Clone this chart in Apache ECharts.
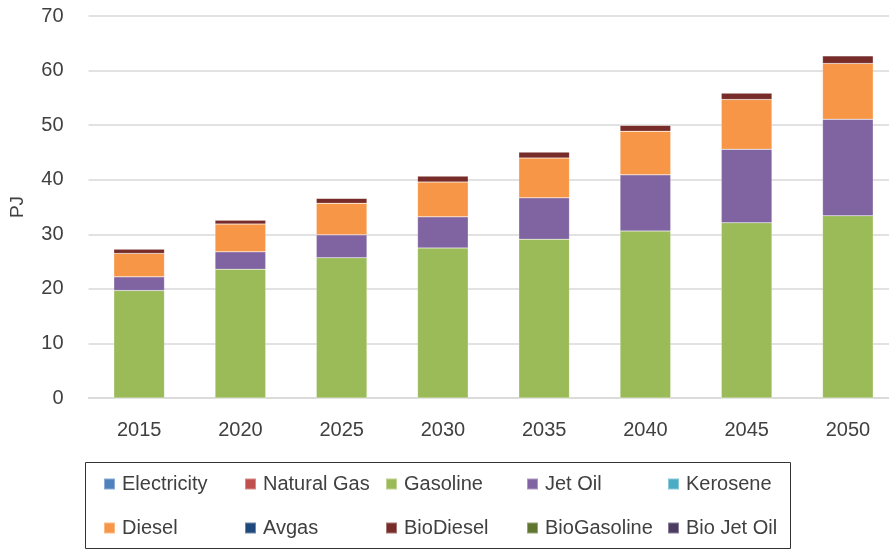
<!DOCTYPE html>
<html>
<head>
<meta charset="utf-8">
<title>Transport energy demand</title>
<script src="https://cdn.jsdelivr.net/npm/echarts@6/dist/echarts.min.js"></script>
<style>
  html, body { margin: 0; padding: 0; background: #fff; }
  #chart { width: 889px; height: 550px; }
</style>
</head>
<body>
<div id="chart"></div>
<script>
// years on the x axis
const years = ['2015', '2020', '2025', '2030', '2035', '2040', '2045', '2050']

// PJ per fuel (stacked in this order)
const electricity = [0, 0, 0, 0, 0, 0, 0, 0]
const naturalGas = [0, 0, 0, 0, 0, 0, 0, 0]
const gasoline = [19.7, 23.6, 25.7, 27.5, 29.1, 30.6, 32.1, 33.4]
const jetOil = [2.5, 3.2, 4.2, 5.7, 7.6, 10.3, 13.5, 17.7]
const kerosene = [0, 0, 0, 0, 0, 0, 0, 0]
const diesel = [4.3, 5.1, 5.8, 6.4, 7.3, 8.0, 9.1, 10.2]
const avgas = [0, 0, 0, 0, 0, 0, 0, 0]
const bioDiesel = [0.8, 0.7, 0.9, 1.1, 1.1, 1.1, 1.2, 1.4]
const bioGasoline = [0, 0, 0, 0, 0, 0, 0, 0]
const bioJetOil = [0, 0, 0, 0, 0, 0, 0, 0]

const yTicks = [0, 10, 20, 30, 40, 50, 60, 70]

const fuels = [
    { name: 'Electricity', data: electricity, color: '#4F81BD' },
    { name: 'Natural Gas', data: naturalGas, color: '#C0504D' },
    { name: 'Gasoline', data: gasoline, color: '#9BBB59' },
    { name: 'Jet Oil', data: jetOil, color: '#8064A2' },
    { name: 'Kerosene', data: kerosene, color: '#4BACC6' },
    { name: 'Diesel', data: diesel, color: '#F79646' },
    { name: 'Avgas', data: avgas, color: '#1F497D' },
    { name: 'BioDiesel', data: bioDiesel, color: '#772C2A' },
    { name: 'BioGasoline', data: bioGasoline, color: '#5F7530' },
    { name: 'Bio Jet Oil', data: bioJetOil, color: '#4D3B62' }
]

const font = 'Liberation Sans, Arial, sans-serif'
const textColor = '#404040'

const chart = echarts.init(document.getElementById('chart'), null, { renderer: 'canvas' })

chart.setOption({
    animation: false,
    textStyle: { fontFamily: font },
    grid: {
        left: 88.5,
        width: 810,   // plot area runs a little past the right edge, like the original
        top: 16,
        bottom: 152,
        outerBoundsMode: 'none'
    },
    legend: {
        left: 103,
        top: 468,
        width: 720,
        padding: 0,
        itemWidth: 11,
        itemHeight: 11,
        itemGap: 12,
        icon: 'rect',
        data: fuels.map(f => f.name),
        textStyle: {
            fontFamily: font,
            fontSize: 20,
            color: textColor,
            width: 110,
            overflow: 'none',
            lineHeight: 32,
            padding: [0, 0, 0, 2]
        }
    },
    graphic: [{
        type: 'rect',
        shape: { x: 85.5, y: 462.5, width: 705, height: 86 },
        style: { fill: 'none', stroke: '#333', lineWidth: 1 },
        silent: true
    }],
    xAxis: {
        type: 'category',
        data: years,
        axisLine: { lineStyle: { color: '#d9d9d9', width: 1.5 } },
        axisTick: { show: false },
        axisLabel: {
            margin: 22,
            fontSize: 20,
            color: textColor
        }
    },
    yAxis: {
        type: 'value',
        min: yTicks[0],
        max: yTicks[yTicks.length - 1],
        interval: 10,
        name: 'PJ',
        nameLocation: 'middle',
        nameGap: 61,
        nameTextStyle: { fontSize: 19, color: textColor },
        axisLine: { show: false },
        axisTick: { show: false },
        axisLabel: {
            margin: 25,
            fontSize: 20,
            color: textColor
        },
        splitLine: { lineStyle: { color: '#d9d9d9', width: 1.5 } }
    },
    series: fuels.map(f => ({
        name: f.name,
        type: 'bar',
        stack: 'total',
        barWidth: '50%',
        data: f.data,
        itemStyle: {
            color: f.color,
            borderColor: 'rgba(255,255,255,0.35)',
            borderWidth: 0.5
        }
    }))
})
</script>
</body>
</html>
